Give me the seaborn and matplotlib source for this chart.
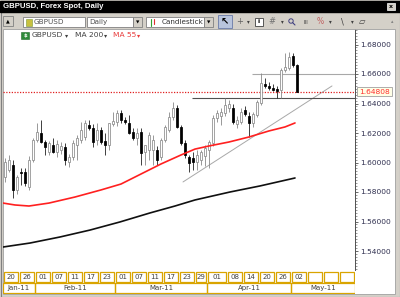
import matplotlib
matplotlib.use("Agg")
import matplotlib.pyplot as plt
from matplotlib.patches import Rectangle, Circle
from matplotlib.ticker import MultipleLocator
import seaborn as sns

# ---------------- data ----------------
candle_idx = list(range(74))
opens = [1.5902, 1.5949, 1.5983, 1.5814, 1.5936, 1.5936, 1.5834, 1.6017, 1.6153, 1.6200,
         1.6139, 1.6071, 1.6119, 1.6071, 1.6085, 1.6105, 1.6003, 1.6037, 1.6119, 1.6153,
         1.6173, 1.6254, 1.6234, 1.6153, 1.6220, 1.6146, 1.6119, 1.6261, 1.6275, 1.6336,
         1.6288, 1.6268, 1.6207, 1.6166, 1.6207, 1.6071, 1.6085, 1.6085, 1.6085, 1.6037,
         1.6153, 1.6220, 1.6308, 1.6369, 1.6241, 1.6132, 1.6037, 1.6030, 1.6003, 1.6017,
         1.6044, 1.6085, 1.6132, 1.6302, 1.6315, 1.6336, 1.6369, 1.6369, 1.6261, 1.6275,
         1.6356, 1.6315, 1.6268, 1.6322, 1.6403, 1.6532, 1.6519, 1.6505, 1.6498, 1.6492,
         1.6627, 1.6641, 1.6722, 1.6661]
highs = [1.6030, 1.6051, 1.6017, 1.5915, 1.5963, 1.5963, 1.6044, 1.6166, 1.6268, 1.6288,
         1.6153, 1.6146, 1.6166, 1.6153, 1.6139, 1.6132, 1.6058, 1.6153, 1.6186, 1.6275,
         1.6288, 1.6288, 1.6261, 1.6268, 1.6241, 1.6200, 1.6268, 1.6342, 1.6356, 1.6356,
         1.6308, 1.6322, 1.6234, 1.6234, 1.6234, 1.6119, 1.6207, 1.6186, 1.6112, 1.6166,
         1.6254, 1.6342, 1.6410, 1.6390, 1.6254, 1.6153, 1.6051, 1.6071, 1.6085, 1.6085,
         1.6119, 1.6153, 1.6322, 1.6356, 1.6369, 1.6437, 1.6424, 1.6397, 1.6315, 1.6369,
         1.6383, 1.6342, 1.6342, 1.6424, 1.6607, 1.6573, 1.6546, 1.6532, 1.6519, 1.6641,
         1.6742, 1.6749, 1.6742, 1.6668]
lows = [1.5868, 1.5936, 1.5759, 1.5786, 1.5847, 1.5841, 1.5814, 1.6003, 1.6139, 1.6132,
        1.6051, 1.6051, 1.6064, 1.6037, 1.6058, 1.5983, 1.5969, 1.6017, 1.6017, 1.6132,
        1.6153, 1.6220, 1.6105, 1.6119, 1.6125, 1.6051, 1.6085, 1.6247, 1.6247, 1.6268,
        1.6261, 1.6193, 1.6153, 1.6119, 1.5983, 1.5983, 1.6017, 1.5983, 1.5983, 1.6017,
        1.6139, 1.6207, 1.6288, 1.6234, 1.6119, 1.6030, 1.5936, 1.5949, 1.5949, 1.5983,
        1.5976, 1.5963, 1.6112, 1.6275, 1.6254, 1.6315, 1.6342, 1.6261, 1.6234, 1.6261,
        1.6315, 1.6173, 1.6241, 1.6308, 1.6390, 1.6505, 1.6492, 1.6485, 1.6437, 1.6437,
        1.6614, 1.6627, 1.6647, 1.6478]
closes = [1.6003, 1.6017, 1.5814, 1.5902, 1.5929, 1.5861, 1.6017, 1.6153, 1.6207, 1.6139,
          1.6105, 1.6132, 1.6071, 1.6125, 1.6112, 1.6017, 1.6037, 1.6132, 1.6166, 1.6220,
          1.6268, 1.6234, 1.6139, 1.6220, 1.6139, 1.6119, 1.6268, 1.6281, 1.6336, 1.6288,
          1.6275, 1.6200, 1.6166, 1.6200, 1.6064, 1.6119, 1.6186, 1.6153, 1.6017, 1.6153,
          1.6241, 1.6308, 1.6369, 1.6241, 1.6132, 1.6051, 1.5997, 1.6003, 1.6051, 1.6071,
          1.6098, 1.6139, 1.6302, 1.6336, 1.6342, 1.6390, 1.6397, 1.6275, 1.6288, 1.6342,
          1.6329, 1.6268, 1.6329, 1.6410, 1.6539, 1.6519, 1.6505, 1.6492, 1.6485, 1.6627,
          1.6647, 1.6715, 1.6661, 1.64808]

ma55_idx = [-0.5, 2.5, 6, 11, 17.5, 24, 29, 34, 39, 44, 47.5, 51, 56, 61, 66, 70, 72.5]
ma55_val = [1.5725, 1.5712, 1.5705, 1.5725, 1.5766, 1.5814, 1.5854, 1.5922, 1.5990, 1.6051,
            1.6091, 1.6112, 1.6139, 1.6173, 1.6214, 1.6241, 1.6268]
ma200_idx = [-0.5, 6.25, 13.75, 21.25, 28.75, 36.25, 42.5, 47.5, 56.25, 63.75, 72.5]
ma200_val = [1.5427, 1.5454, 1.5495, 1.5542, 1.5597, 1.5658, 1.5705, 1.5746, 1.5800, 1.5841, 1.5895]

trend_idx = [44.5, 81.75]
trend_val = [1.5868, 1.6519]
last_price = 1.64808
resist_level, resist_start = 1.6600, 61.75
support_level, support_start = 1.6437, 46.75

price_ticks = [1.54, 1.56, 1.58, 1.60, 1.62, 1.64, 1.66, 1.68]
day_tick_idx = [0, 4, 8, 12, 16, 20, 24, 28, 32, 36, 40, 44, 48, 51, 56, 60, 64, 68, 72, 76, 80, 84]
day_tick_lbl = ["20", "26", "01", "07", "11", "17", "23", "01", "07", "11", "17", "23", "29",
                "01", "08", "14", "20", "26", "02", "", "", ""]
month_idx = [0, 8, 28, 51, 72]
month_lbl = ["Jan-11", "Feb-11", "Mar-11", "Apr-11", "May-11"]
x_end = 87.5

# ---------------- style ----------------
sns.set_theme(style="white")
plt.rcParams['font.family'] = ['DejaVu Sans']

W, H = 400, 297
GREY = '#d4d0c8'
GOLD = '#d9a400'
fig = plt.figure(figsize=(W / 100, H / 100), dpi=100)
fig.patch.set_facecolor(GREY)


def rect(x0, y0, x1, y1):
    return [x0 / W, 1 - y1 / H, (x1 - x0) / W, (y1 - y0) / H]


# background / chrome in pixel coordinates
bg = fig.add_axes([0, 0, 1, 1], zorder=0)
bg.set_xlim(0, W)
bg.set_ylim(H, 0)
bg.axis('off')
bg.add_patch(Rectangle((0.5, 0.5), W - 1, H - 1, fill=False, edgecolor='#808080', lw=0.8))
bg.add_patch(Rectangle((0, 1), W, 11, color='black'))
bg.text(3, 6.8, "GBPUSD, Forex Spot, Daily", color='white', fontsize=5.6, fontweight='bold',
        va='center', ha='left', family=['Liberation Sans', 'DejaVu Sans'])
bg.add_patch(Rectangle((387, 3), 8, 7, facecolor=GREY, edgecolor='white', lw=0.5))
bg.text(391, 6.6, "x", fontsize=4.5, fontweight='bold', ha='center', va='center', color='black')

# toolbar
bg.add_patch(Rectangle((3, 16), 10, 10, facecolor=GREY, edgecolor='#808080', lw=0.6))
bg.text(8, 21.3, "▲", fontsize=3.5, ha='center', va='center', color='black')
bg.add_patch(Rectangle((23, 17), 62, 10, facecolor='white', edgecolor='#808080', lw=0.6))
bg.add_patch(Rectangle((26, 18.5), 6, 7, facecolor='#c8c040', edgecolor='#7a9a30', lw=0.4))
bg.text(34, 22.3, "GBPUSD", fontsize=5.2, ha='left', va='center', color='#505050')
bg.add_patch(Rectangle((87, 17), 46, 10, facecolor='white', edgecolor='#808080', lw=0.6))
bg.text(89, 22.3, "Daily", fontsize=5.2, ha='left', va='center', color='#505050')
bg.add_patch(Rectangle((133, 17), 9, 10, facecolor=GREY, edgecolor='#808080', lw=0.6))
bg.text(137.5, 22.3, "▼", fontsize=3.2, ha='center', va='center', color='black')
bg.add_patch(Rectangle((146, 17), 58, 10, facecolor='white', edgecolor='#808080', lw=0.6))
bg.plot([151, 151], [18.5, 25.5], color='#30a030', lw=0.8)
bg.plot([154, 154], [19, 24], color='#e03030', lw=0.8)
bg.text(162, 22.3, "Candlestick", fontsize=5.2, ha='left', va='center', color='#303030')
bg.add_patch(Rectangle((204, 17), 9, 10, facecolor=GREY, edgecolor='#808080', lw=0.6))
bg.text(208.5, 22.3, "▼", fontsize=3.2, ha='center', va='center', color='black')
bg.add_patch(Rectangle((218, 15), 14, 13, facecolor='#b8c4dc', edgecolor='#6a7ba8', lw=0.6))
bg.text(225, 21.5, "↖", fontsize=7, ha='center', va='center', color='black', fontweight='bold')
icons = [(240, "+", '#606060', 6), (248, "▾", '#404040', 4), (272, "#", '#707070', 6),
         (282, "▾", '#404040', 4), (306, "III", '#404040', 4),
         (320, "%", '#c06060', 5.5), (330, "▾", '#404040', 4), (342, "\\", '#404040', 6),
         (352, "▾", '#404040', 4), (362, "▱", '#404040', 6), (392, "▴", '#808080', 3.5)]
for xi, s, c, fs in icons:
    bg.text(xi, 22, s, fontsize=fs, ha='center', va='center', color=c)
# magnifier symbol drawn as a shape
bg.add_patch(Circle((291, 21), 2.2, fill=False, edgecolor='#404080', lw=0.7))
bg.plot([292.6, 295], [22.6, 25], color='#404080', lw=0.8)
bg.add_patch(Rectangle((255, 17.5), 8, 8, facecolor='white', edgecolor='#404040', lw=0.6))
bg.text(259, 21.8, "i", fontsize=4.5, ha='center', va='center', color='black', fontweight='bold')

# white chart panel
bg.add_patch(Rectangle((3, 29), 392, 265, facecolor='white', edgecolor='#a0a0a0', lw=0.6))

# legend row
bg.add_patch(Rectangle((21, 31.5), 8, 7, facecolor='#2e8b3a', edgecolor='#1e6b2a', lw=0.4))
bg.text(25, 35.2, "$", fontsize=4, ha='center', va='center', color='white', fontweight='bold')
bg.text(32, 35.2, "GBPUSD", fontsize=5.4, ha='left', va='center', color='#404040')
bg.text(67, 35.6, "▾", fontsize=4.5, ha='center', va='center', color='#404040')
bg.text(75, 35.2, "MA 200", fontsize=5.4, ha='left', va='center', color='#404040')
bg.text(106, 35.6, "▾", fontsize=4.5, ha='center', va='center', color='#404040')
bg.text(113, 35.2, "MA 55", fontsize=5.4, ha='left', va='center', color='#e83c3c')
bg.text(139, 35.6, "▾", fontsize=4.5, ha='center', va='center', color='#e83c3c')

# ---------------- main chart ----------------
ax = fig.add_axes(rect(3, 29, 355, 270), zorder=2)
ax.set_facecolor('none')
ax.set_xlim(-0.5, x_end)
ax.set_ylim(1.68 - 225.5 / 1475, 1.68 + 15.5 / 1475)

up = [c >= o for o, c in zip(opens, closes)]
for i, o, h, l, c, u in zip(candle_idx, opens, highs, lows, closes, up):
    wc = '#888888' if u else '#202020'
    ax.vlines(i, l, h, color=wc, lw=0.6, zorder=2)
bx_up = [i for i, u in zip(candle_idx, up) if u]
bx_dn = [i for i, u in zip(candle_idx, up) if not u]
ax.bar(bx_up, [closes[i] - opens[i] for i in bx_up], bottom=[opens[i] for i in bx_up],
       width=0.72, facecolor='white', edgecolor='#8a8a8a', linewidth=0.55, zorder=3)
ax.bar(bx_dn, [closes[i] - opens[i] for i in bx_dn], bottom=[opens[i] for i in bx_dn],
       width=0.72, facecolor='black', edgecolor='black', linewidth=0.55, zorder=3)

sns.lineplot(x=ma55_idx, y=ma55_val, ax=ax, color='#ff2020', linewidth=1.2, zorder=4)
sns.lineplot(x=ma200_idx, y=ma200_val, ax=ax, color='#101010', linewidth=1.2, zorder=4)
ax.plot(trend_idx, trend_val, color='#a8a8a8', lw=0.7, zorder=1.5)
ax.hlines(resist_level, resist_start, x_end, color='#a8a8a8', lw=0.8, zorder=1.5)
ax.hlines(support_level, support_start, x_end, color='#505050', lw=0.8, zorder=1.5)
ax.axhline(last_price, color='#e02020', lw=0.9, ls=(0, (1, 1.2)), zorder=1.6)

for s in ['top', 'left', 'bottom']:
    ax.spines[s].set_visible(False)
ax.spines['right'].set_color('#505050')
ax.spines['right'].set_linewidth(0.7)
ax.spines['right'].set_linestyle((0, (1, 1)))
ax.set_xticks([])
ax.yaxis.tick_right()
ax.set_yticks(price_ticks)
ax.set_yticklabels([f"{v:.5f}" for v in price_ticks])
ax.yaxis.set_minor_locator(MultipleLocator(0.002))
ax.tick_params(axis='y', which='major', right=True, length=2.5, width=0.6, color='#505050',
               labelsize=5.4, labelcolor='#303050', pad=1.2)
ax.tick_params(axis='y', which='minor', right=True, length=1.2, width=0.5, color='#707070')

ax.annotate(f"{last_price:.5f}", xy=(1.0, last_price), xycoords=('axes fraction', 'data'),
            xytext=(3.0, 0), textcoords='offset points', ha='left', va='center',
            fontsize=5.4, color='#ff3030',
            bbox=dict(boxstyle='square,pad=0.25', facecolor='#ffffe6', edgecolor='#a0a0a0', lw=0.6),
            zorder=6, annotation_clip=False)

# ---------------- date axis ----------------
dax = fig.add_axes(rect(3, 271, 355, 294), zorder=2)
dax.set_facecolor('none')
dax.set_xlim(-0.5, x_end)
dax.set_ylim(23, 0)
dax.axis('off')
d_edges = day_tick_idx + [x_end + 0.5]
for k, lbl in enumerate(day_tick_lbl):
    x0, x1 = d_edges[k] - 0.5, d_edges[k + 1] - 0.5
    dax.add_patch(Rectangle((x0 + 0.15, 0.8), (x1 - x0) - 0.3, 10.2, fill=False,
                            edgecolor=GOLD, lw=0.9))
    dax.text((x0 + x1) / 2, 6.2, lbl, fontsize=5, ha='center', va='center', color='#404040')
m_edges = month_idx + [x_end + 0.5]
for k, lbl in enumerate(month_lbl):
    x0, x1 = m_edges[k] - 0.5, m_edges[k + 1] - 0.5
    dax.add_patch(Rectangle((x0 + 0.05, 11.8), (x1 - x0) - 0.1, 10.4, fill=False,
                            edgecolor=GOLD, lw=0.9))
    dax.text((x0 + x1) / 2, 17.2, lbl, fontsize=5, ha='center', va='center', color='#404040')

fig.savefig("out.png", dpi=100, facecolor=fig.get_facecolor())
